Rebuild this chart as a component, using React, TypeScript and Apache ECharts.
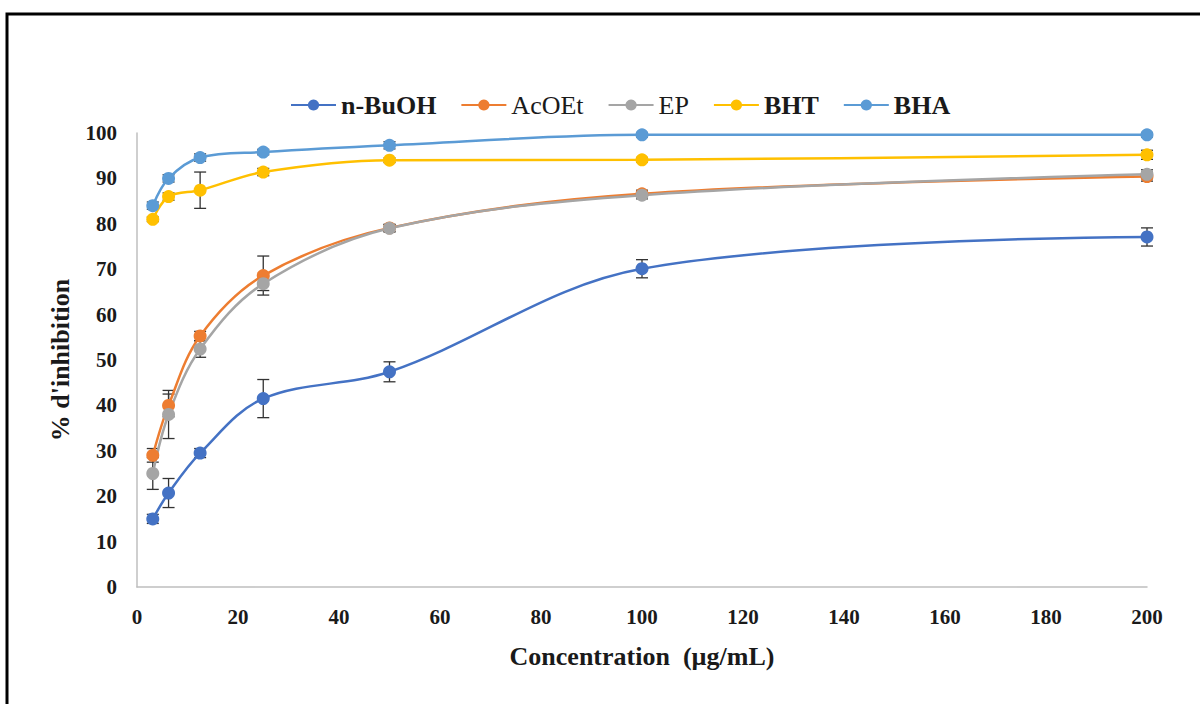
import React, { useEffect, useRef } from "react";
import * as echarts from "echarts";

const concentrations = [3.125, 6.25, 12.5, 25, 50, 100, 200];
const seriesNames = ["n-BuOH", "AcOEt", "EP", "BHT", "BHA"];
const seriesColors = ["#4472C4", "#ED7D31", "#A5A5A5", "#FFC000", "#5B9BD5"];
const nBuOH = [15, 20.7, 29.5, 41.5, 47.4, 70.1, 77.1];
const nBuOHErr = [1, 3.2, 1, 4.2, 2.2, 2, 2];
const acOEt = [29, 40, 55.3, 68.6, 79.1, 86.6, 90.4];
const acOEtErr = [1.5, 2.5, 1, 4.3, 0.8, 0.8, 1];
const ep = [25, 38, 52.4, 66.8, 79, 86.3, 90.9];
const epErr = [3.5, 5.3, 1.8, 1.5, 0.8, 0.8, 1];
const bht = [81, 86, 87.4, 91.4, 94, 94.1, 95.2];
const bhtErr = [0.5, 0.8, 4, 0.8, 0.5, 0.5, 1];
const bha = [84, 90, 94.6, 95.8, 97.3, 99.6, 99.6];
const bhaErr = [0.8, 0.8, 0.8, 0.6, 0.8, 0.5, 0.5];
const boldLegend = [true, false, false, true, true];
const xTitle = "Concentration  (µg/mL)";
const yTitle = "% d'inhibition";

const allValues = [nBuOH, acOEt, ep, bht, bha];
const allErrors = [nBuOHErr, acOEtErr, epErr, bhtErr, bhaErr];

const FONT = "'Liberation Serif', 'Times New Roman', serif";

export default function App() {
  const ref = useRef<HTMLDivElement>(null);
  useEffect(() => {
    if (!ref.current) return;
    const chart = echarts.init(ref.current, undefined, { renderer: "svg" });
    const lineSeries: any[] = seriesNames.map((name, i) => ({
      name,
      type: "line",
      smooth: 0.35,
      symbol: "circle",
      symbolSize: 13,
      z: 3,
      lineStyle: { width: 2.5, color: seriesColors[i] },
      itemStyle: { color: seriesColors[i] },
      data: concentrations.map((c, j) => [c, allValues[i][j]]),
    }));
    const errSeries: any[] = seriesNames.map((name, i) => ({
      name: name + "-err",
      type: "custom",
      z: 2,
      silent: true,
      data: concentrations.map((c, j) => [c, allValues[i][j] - allErrors[i][j], allValues[i][j] + allErrors[i][j]]),
      renderItem: (params: any, api: any) => {
        const x = api.value(0);
        const lo = api.coord([x, api.value(1)]);
        const hi = api.coord([x, api.value(2)]);
        const hw = 6;
        const style = { stroke: "#333", lineWidth: 1.3 };
        return {
          type: "group",
          children: [
            { type: "line", shape: { x1: lo[0], y1: lo[1], x2: hi[0], y2: hi[1] }, style },
            { type: "line", shape: { x1: lo[0] - hw, y1: lo[1], x2: lo[0] + hw, y2: lo[1] }, style },
            { type: "line", shape: { x1: hi[0] - hw, y1: hi[1], x2: hi[0] + hw, y2: hi[1] }, style },
          ],
        };
      },
    }));
    chart.setOption({
      animation: false,
      backgroundColor: "#ffffff",
      graphic: [
        {
          type: "rect",
          shape: { x: 7, y: 14, width: 1200, height: 700 },
          style: { fill: "none", stroke: "#000", lineWidth: 3 },
        },
      ],
      legend: {
        top: 87,
        left: 285,
        itemWidth: 45,
        itemHeight: 14,
        itemGap: 24,
        data: seriesNames.map((n, i) => ({
          name: n,
          textStyle: {
            fontFamily: FONT,
            fontSize: 26,
            fontWeight: boldLegend[i] ? "bold" : "normal",
            color: "#1a1a1a",
          },
        })),
      },
      grid: { left: 137, right: 53, top: 133, bottom: 117 },
      xAxis: {
        type: "value",
        min: 0,
        max: 200,
        interval: 20,
        name: xTitle,
        nameLocation: "middle",
        nameGap: 56,
        nameTextStyle: { fontFamily: FONT, fontSize: 26, fontWeight: "bold", color: "#1a1a1a" },
        axisLine: { show: true, lineStyle: { color: "#bfbfbf", width: 1.5 } },
        axisTick: { show: false },
        splitLine: { show: false },
        axisLabel: { margin: 19, fontFamily: FONT, fontSize: 21, fontWeight: "bold", color: "#1a1a1a" },
      },
      yAxis: {
        type: "value",
        min: 0,
        max: 100,
        interval: 10,
        name: yTitle,
        nameLocation: "middle",
        nameGap: 64,
        nameRotate: 90,
        nameTextStyle: { fontFamily: FONT, fontSize: 26, fontWeight: "bold", color: "#1a1a1a" },
        axisLine: { show: true, lineStyle: { color: "#bfbfbf", width: 1.5 } },
        axisTick: { show: false },
        splitLine: { show: false },
        axisLabel: { margin: 20, fontFamily: FONT, fontSize: 21, fontWeight: "bold", color: "#1a1a1a" },
      },
      series: [...errSeries, ...lineSeries],
    });
    return () => chart.dispose();
  }, []);
  return (
    <div
      ref={ref}
      style={{ position: "fixed", left: 0, top: 0, width: 1200, height: 704, background: "#fff" }}
    />
  );
}
